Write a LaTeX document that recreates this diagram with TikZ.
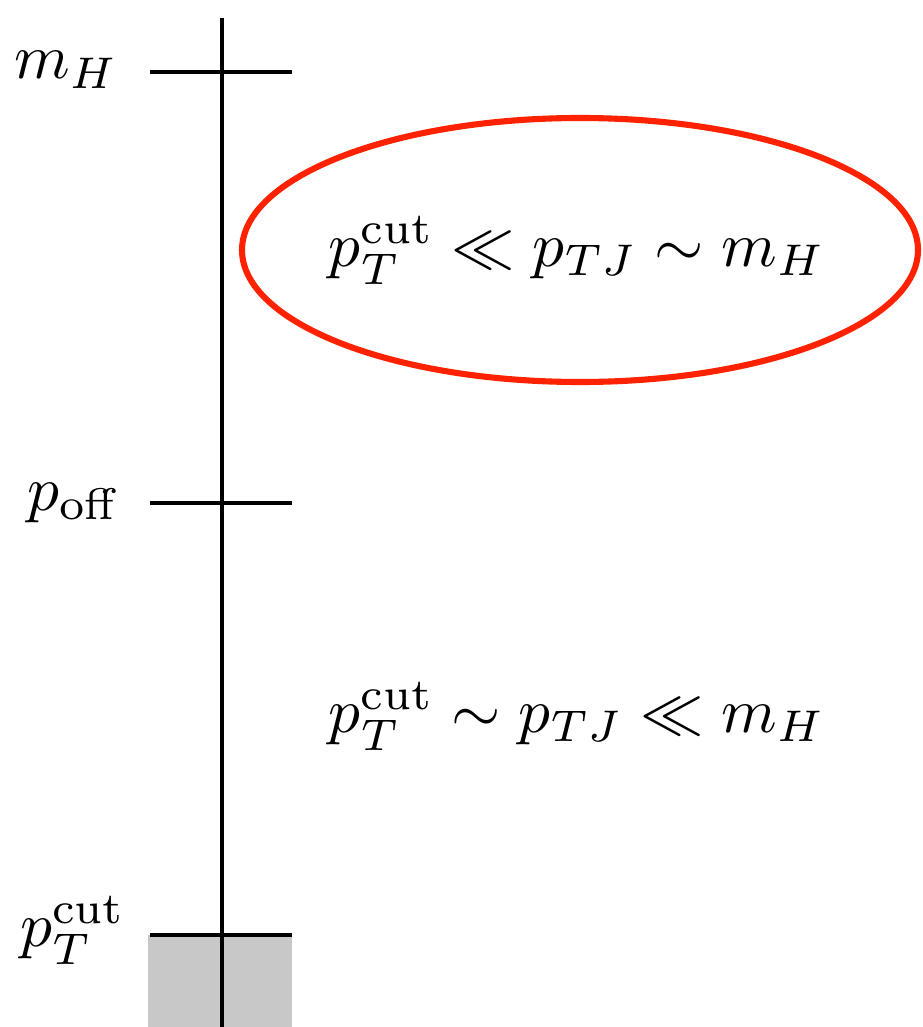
\documentclass[tikz,border=0pt]{standalone}
\usepackage{amsmath,amssymb,graphicx}
\newcommand{\bigtxt}[1]{\scalebox{1.09}{#1}}
\begin{document}
\begin{tikzpicture}[x=0.172pt,y=-0.172pt,
  axisline/.style={line width=0.6pt},
  ticklab/.style={anchor=east,inner sep=0pt},
  region/.style={inner sep=0pt},
  hilite/.style={draw={rgb,255:red,255;green,34;blue,0},line width=1.05pt}]
\useasboundingbox (0,0) rectangle (922,1027);
\fill[fill={rgb,255:red,200;green,200;blue,200}] (148,935) rectangle (292,1027);
\coordinate (top) at (222,18);
\coordinate (bot) at (222,1027);
\draw[axisline] (top) -- (bot);
\coordinate (a1) at (150,72); \coordinate (a2) at (292,72);
\coordinate (b1) at (150,503); \coordinate (b2) at (292,503);
\coordinate (c1) at (150,935); \coordinate (c2) at (292,935);
\draw[axisline] (a1) -- (a2);
\draw[axisline] (b1) -- (b2);
\draw[axisline] (c1) -- (c2);
\node[ticklab] (lmh) at (119,70) {\bigtxt{$m_H$}};
\node[ticklab] (loff) at (119,503) {\bigtxt{$p_{\text{off}}$}};
\node[ticklab] (lcut) at (127,930) {\bigtxt{$p_T^{\text{cut}}$}};
\draw[hilite] (580,250) ellipse [x radius=338, y radius=132];
\node[region] (r1) at (577,250) {\bigtxt{$p_T^{\text{cut}} \ll p_{TJ} \sim m_H$}};
\node[region] (r2) at (577,716) {\bigtxt{$p_T^{\text{cut}} \sim p_{TJ} \ll m_H$}};
\end{tikzpicture}
\end{document}
